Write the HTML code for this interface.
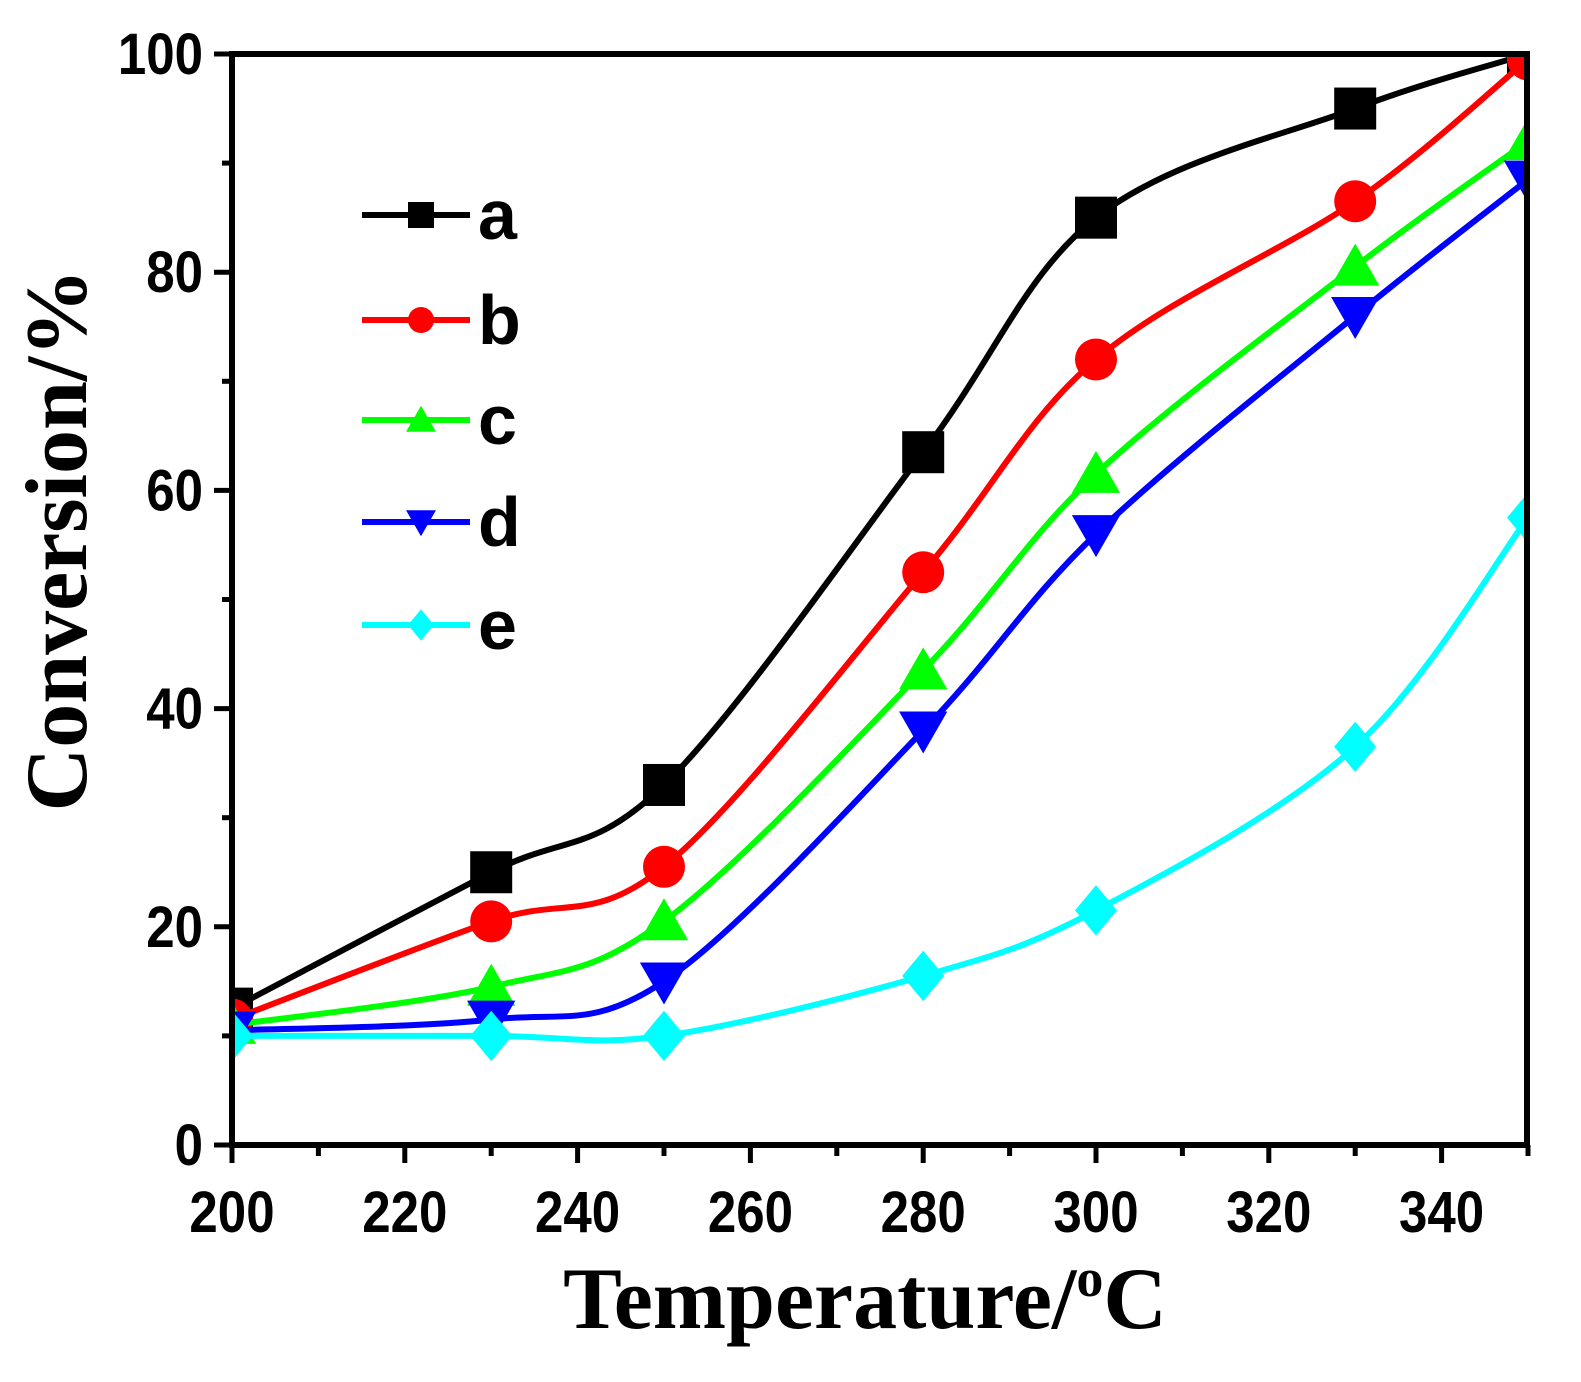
<!DOCTYPE html>
<html><head><meta charset="utf-8"><style>
html,body{margin:0;padding:0;background:#fff;}
svg{display:block;}
.tl{font-family:"Liberation Sans",sans-serif;font-weight:bold;font-size:58px;}
.lg{font-family:"Liberation Sans",sans-serif;font-weight:bold;font-size:70px;}
.ti{font-family:"Liberation Serif",serif;font-weight:bold;font-size:88px;}
</style></head><body>
<svg id="s" width="1581" height="1382" xmlns="http://www.w3.org/2000/svg"></svg>
<script>
const X=t=>232+(t-200)*8.64, Y=v=>1145-v*10.91;
const T=[200,230,250,280,300,330,350];
const D=[
['#000','sq',[12.5,25,33,63.5,85,95,100]],
['#f00','ci',[11.5,20.5,25.5,52.5,72,86.5,99.5]],
['#0f0','tu',[11,14.5,20.5,43.5,61.5,80.5,92]],
['#00f','td',[10.5,11.5,15,38,56,76,88.5]],
['#0ff','di',[10,10,10,15.5,21.5,36.5,57.5]]];
let s='';
function mk(k,x,y,c,r){
 if(k=='sq')return `<rect x="${x-r}" y="${y-r}" width="${2*r}" height="${2*r}" fill="${c}"/>`;
 if(k=='ci')return `<circle cx="${x}" cy="${y}" r="${r}" fill="${c}"/>`;
 if(k=='tu')return `<polygon points="${x},${y-r*1.1} ${x-r*1.15},${y+r*0.9} ${x+r*1.15},${y+r*0.9}" fill="${c}"/>`;
 if(k=='td')return `<polygon points="${x},${y+r*1.1} ${x-r*1.15},${y-r*0.9} ${x+r*1.15},${y-r*0.9}" fill="${c}"/>`;
 return `<polygon points="${x},${y-r*1.2} ${x+r},${y} ${x},${y+r*1.2} ${x-r},${y}" fill="${c}"/>`;
}
s+='<defs><clipPath id="cp"><rect x="232" y="54" width="1295" height="1091"/></clipPath></defs>';
D.forEach(([c,k,v])=>{
 const p=T.map((t,i)=>[X(t),Y(v[i])]);
 let d=`M${p[0][0]},${p[0][1]}`;
 for(let i=0;i<p.length-1;i++){
  const p0=p[Math.max(0,i-1)],p1=p[i],p2=p[i+1],p3=p[Math.min(p.length-1,i+2)];
  const c1=[p1[0]+(p2[0]-p0[0])/6,p1[1]+(p2[1]-p0[1])/6],c2=[p2[0]-(p3[0]-p1[0])/6,p2[1]-(p3[1]-p1[1])/6];
  d+=` C${c1} ${c2} ${p2}`;
 }
 s+=`<path d="${d}" fill="none" stroke="${c}" stroke-width="6"/>`;
 s+='<g clip-path="url(#cp)">'+p.map(q=>mk(k,q[0],q[1],c,21)).join('')+'</g>';
});
s+='<rect x="232" y="54" width="1295" height="1091" fill="none" stroke="#000" stroke-width="6"/>';
for(let v=0;v<=100;v+=10){const y=Y(v);s+=`<line x1="${v%20?222:214}" y1="${y}" x2="232" y2="${y}" stroke="#000" stroke-width="5"/>`;
 if(v%20==0)s+=`<text class="tl" x="203" y="${y+20}" text-anchor="end" transform="translate(203,0) scale(0.88,1) translate(-203,0)">${v}</text>`;}
for(let t=200;t<=350;t+=10){const x=X(t);s+=`<line x1="${x}" y1="1145" x2="${x}" y2="${t%20?1156:1163}" stroke="#000" stroke-width="5"/>`;
 if(t%20==0)s+=`<text class="tl" x="${x}" y="1232" text-anchor="middle" transform="translate(${x},0) scale(0.88,1) translate(${-x},0)">${t}</text>`;}
const ly=[215,320,420,522,625];
D.forEach(([c,k],i)=>{s+=`<line x1="362" y1="${ly[i]}" x2="470" y2="${ly[i]}" stroke="${c}" stroke-width="6"/>`+mk(k,421,ly[i],c,13)+`<text class="lg" x="478" y="${ly[i]+24}">${String.fromCharCode(97+i)}</text>`;});
s+=`<text class="ti" x="865" y="1328" text-anchor="middle">Temperature/<tspan font-size="54" dy="-32">o</tspan><tspan dy="32">C</tspan></text>`;
s+=`<text class="ti" transform="translate(86,540) rotate(-90)" text-anchor="middle">Conversion/%</text>`;
document.getElementById('s').innerHTML=s;
</script>
</body></html>
